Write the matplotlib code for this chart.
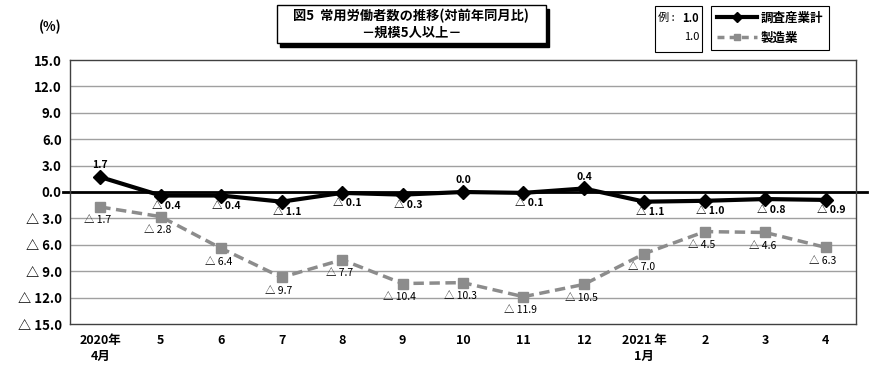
import matplotlib
matplotlib.use("Agg")
import matplotlib.pyplot as plt
from matplotlib.patches import Rectangle
from matplotlib.lines import Line2D

plt.rcParams['font.family'] = ['Noto Sans CJK JP', 'DejaVu Sans']

categories = ["2020年\n4月", "5", "6", "7", "8", "9", "10", "11", "12", "2021 年\n1月", "2", "3", "4"]
total_all = [1.7, -0.4, -0.4, -1.1, -0.1, -0.3, 0.0, -0.1, 0.4, -1.1, -1.0, -0.8, -0.9]
manufacturing = [-1.7, -2.8, -6.4, -9.7, -7.7, -10.4, -10.3, -11.9, -10.5, -7.0, -4.5, -4.6, -6.3]
yticks = [15, 12, 9, 6, 3, 0, -3, -6, -9, -12, -15]
series_names = ["調査産業計", "製造業"]
title_lines = ["図5  常用労働者数の推移(対前年同月比)", "－規模5人以上－"]

W, H = 890, 379
fig = plt.figure(figsize=(W / 100, H / 100), dpi=100)

def fx(px):
    return px / W

def fy(py):
    return 1 - py / H

ax = fig.add_axes([fx(70), fy(324), fx(856) - fx(70), fy(60) - fy(324)])
x = list(range(len(categories)))

def fmt(v):
    if v < 0:
        return "△ " + f"{abs(v):.1f}"
    return f"{v:.1f}"

# grid
for t in yticks:
    if t not in (0, 15, -15):
        ax.axhline(t, color="#a0a0a0", lw=1.0, zorder=1)
# zero line extending beyond plot area
ax.plot([-0.009, 1.014], [0, 0], color="black", lw=2.0, transform=ax.get_yaxis_transform(),
        clip_on=False, zorder=2)

ax.plot(x, manufacturing, color="#8c8c8c", lw=2.5, ls=(0, (3, 1.6)), marker="s", ms=7,
        markerfacecolor="#8c8c8c", markeredgecolor="#8c8c8c", zorder=3)
ax.plot(x, total_all, color="black", lw=3.0, marker="D", ms=7,
        markerfacecolor="black", markeredgecolor="black", zorder=4)

for xi, v in zip(x, total_all):
    if v >= 0:
        ax.annotate(fmt(v), (xi, v), xytext=(0, 5), textcoords="offset points",
                    ha="center", va="bottom", fontsize=7.5, fontweight="bold")
    else:
        ax.annotate(fmt(v), (xi, v), xytext=(4, -4), textcoords="offset points",
                    ha="center", va="top", fontsize=7.5, fontweight="bold")

for xi, v in zip(x, manufacturing):
    ax.annotate(fmt(v), (xi, v), xytext=(-2, -6), textcoords="offset points",
                ha="center", va="top", fontsize=7.5,
                family=["Noto Sans CJK JP"], fontstretch="condensed")

ax.set_xlim(-0.5, len(categories) - 0.5)
ax.set_ylim(-15, 15)
ax.set_yticks(yticks)
ax.set_yticklabels([fmt(t) for t in yticks], fontsize=9.5, fontweight="bold")
ax.set_xticks(x)
ax.set_xticklabels(categories, fontsize=9, fontweight="bold", linespacing=1.3)
ax.tick_params(axis="both", length=0, pad=6)
ax.tick_params(axis="x", pad=7)
for s in ax.spines.values():
    s.set_color("#404040")
    s.set_linewidth(1.0)

fig.text(fx(50), fy(27), "(%)", ha="center", va="center", fontsize=9.5, fontweight="bold")

# title box with shadow
fig.patches.append(Rectangle((fx(280), fy(47)), fx(546) - fx(277), fy(5) - fy(43),
                             transform=fig.transFigure, facecolor="black", edgecolor="black"))
fig.patches.append(Rectangle((fx(277), fy(43)), fx(546) - fx(277), fy(5) - fy(43),
                             transform=fig.transFigure, facecolor="white", edgecolor="black", lw=1.0))
fig.text(fx(411), fy(16), title_lines[0], ha="center", va="center", fontsize=9.5, fontweight="bold")
fig.text(fx(411), fy(33), title_lines[1], ha="center", va="center", fontsize=9.5, fontweight="bold")

# example box
fig.patches.append(Rectangle((fx(655), fy(52)), fx(702) - fx(655), fy(6) - fy(52),
                             transform=fig.transFigure, facecolor="white", edgecolor="black", lw=0.8))
fig.text(fx(658), fy(18), "例 :", ha="left", va="center", fontsize=8)
fig.text(fx(699), fy(18), "1.0", ha="right", va="center", fontsize=8, fontweight="bold")
fig.text(fx(699), fy(37), "1.0", ha="right", va="center", fontsize=8)

handles = [
    Line2D([], [], color="black", lw=3.0, marker="D", ms=5),
    Line2D([], [], color="#8c8c8c", lw=2.5, ls=(0, (2, 1.5)), marker="s", ms=5),
]
leg = fig.legend(handles, series_names, loc="upper left", bbox_to_anchor=(fx(711), fy(6)),
                 frameon=True, fancybox=False, edgecolor="black", framealpha=1,
                 handlelength=3.2, fontsize=9, borderpad=0.45, labelspacing=0.55,
                 handletextpad=0.3, borderaxespad=0)
leg.get_frame().set_linewidth(0.8)
for t in leg.get_texts():
    t.set_fontweight("bold")

fig.savefig("out.png", dpi=100)
